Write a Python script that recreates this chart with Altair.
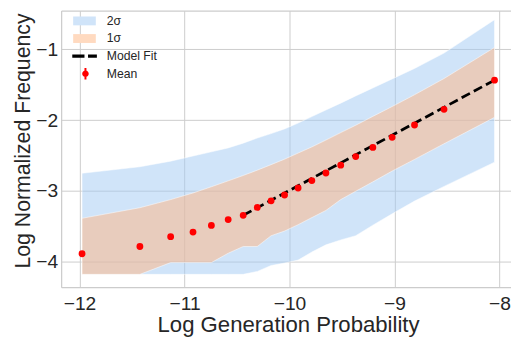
import altair as alt
import pandas as pd

# ---- data ----
gen_prob = [-11.976, -11.425, -11.132, -10.919, -10.744, -10.584, -10.441, -10.307, -10.175, -10.047,
            -9.918, -9.787, -9.653, -9.512, -9.369, -9.206, -9.022, -8.809, -8.528, -8.047]
mean_freq = [-3.885, -3.783, -3.644, -3.579, -3.486, -3.403, -3.343, -3.232, -3.139, -3.056,
             -2.958, -2.853, -2.746, -2.635, -2.514, -2.385, -2.242, -2.069, -1.847, -1.436]
upper_2s = [-2.750, -2.658, -2.579, -2.506, -2.447, -2.392, -2.325, -2.253, -2.190, -2.124,
            -2.042, -1.950, -1.857, -1.760, -1.658, -1.546, -1.418, -1.271, -1.054, -0.583]
upper_1s = [-3.385, -3.236, -3.121, -3.028, -2.940, -2.857, -2.781, -2.706, -2.628, -2.551,
            -2.465, -2.378, -2.281, -2.176, -2.072, -1.947, -1.808, -1.642, -1.413, -0.975]
lower_1s = [-4.176, -4.176, -4.010, -4.010, -4.010, -3.878, -3.783, -3.783, -3.631, -3.565,
            -3.475, -3.375, -3.274, -3.121, -3.003, -2.871, -2.718, -2.554, -2.333, -1.961]
lower_2s = [-4.176, -4.176, -4.176, -4.176, -4.176, -4.176, -4.176, -4.135, -4.051, -4.017,
            -3.975, -3.861, -3.760, -3.690, -3.631, -3.482, -3.322, -3.142, -2.935, -2.593]
fit_x = [-10.441, -8.047]
fit_y = [-3.343, -1.436]

legend_labels = ["2σ", "1σ", "Model Fit", "Mean"]
legend_colors = ["#d0e4f9", "#ffdac0", "#000000", "#ff0000"]
patch_path = "M-1.278,-0.5H1.278V0.5H-1.278Z"
dash_path = "M-1.378,-0.185H0V0.185H-1.378Z M0.4,-0.185H1.4V0.185H0.4Z"
mean_path = "M0.48,0A0.37,0.37 0 1,1 -0.26,0A0.37,0.37 0 1,1 0.48,0Z M0,-0.65H0.22V0.65H0Z"
legend_shapes = [patch_path, patch_path, dash_path, mean_path]

x_ticks = [-12, -11, -10, -9, -8]
y_ticks = [-4, -3, -2, -1]

FONT = "Liberation Sans"
TXT = "#262626"
GRID = "#cccccc"

band_df = pd.DataFrame({"x": gen_prob, "u2": upper_2s, "l2": lower_2s, "u1": upper_1s, "l1": lower_1s})
mean_df = pd.DataFrame({"x": gen_prob, "y": mean_freq})
fit_df = pd.DataFrame({"x": fit_x, "y": fit_y})
leg_df = pd.DataFrame({"series": legend_labels})

xscale = alt.Scale(domain=[-12.175, -7.890], nice=False, zero=False)
yscale = alt.Scale(domain=[-4.357, -0.454], nice=False, zero=False)

x_axis = alt.Axis(orient="bottom", values=x_ticks, format="d", grid=True, gridColor=GRID, gridWidth=1,
                  domain=True, domainColor=GRID, domainWidth=1.25, ticks=False, tickSize=0,
                  labelFont=FONT, labelFontSize=19.5, labelColor=TXT, labelPadding=8, labelFlush=False,
                  title="Log Generation Probability", titleFont=FONT, titleFontSize=22.5,
                  titleFontWeight="normal", titleColor=TXT, titleX=230.5, titleY=45.5,
                  titleBaseline="alphabetic", titleAlign="center")
y_axis = alt.Axis(orient="left", values=y_ticks, format="d", grid=True, gridColor=GRID, gridWidth=1,
                  domain=True, domainColor=GRID, domainWidth=1.25, ticks=False, tickSize=0,
                  labelFont=FONT, labelFontSize=19.5, labelColor=TXT, labelPadding=3.5, labelFlush=False,
                  title="Log Normalized Frequency", titleFont=FONT, titleFontSize=21.6,
                  titleFontWeight="normal", titleColor=TXT, titleX=-38.5, titleY=132,
                  titleAngle=270, titleBaseline="middle", titleAlign="center")
top_axis = alt.Axis(orient="top", labels=False, ticks=False, tickSize=0, grid=False, domain=True,
                    domainColor=GRID, domainWidth=1.25, title=None)

band2 = alt.Chart(band_df).mark_area(fill="#a1c9f4", fillOpacity=0.5, stroke="white",
                                     strokeWidth=1, strokeOpacity=0.5).encode(
    x=alt.X("x:Q", scale=xscale, axis=x_axis),
    y=alt.Y("u2:Q", scale=yscale, axis=y_axis),
    y2="l2:Q",
)
band1 = alt.Chart(band_df).mark_area(fill="#ffb482", fillOpacity=0.5, stroke="white",
                                     strokeWidth=1, strokeOpacity=0.5).encode(
    x=alt.X("x:Q", scale=xscale, axis=None),
    y=alt.Y("u1:Q", scale=yscale, axis=None),
    y2="l1:Q",
)
fit = alt.Chart(fit_df).mark_line(color="black", strokeWidth=2.8, strokeDash=[9.5, 4.5]).encode(
    x=alt.X("x:Q", scale=xscale, axis=top_axis),
    y=alt.Y("y:Q", scale=yscale, axis=None),
)
pts = alt.Chart(mean_df).mark_circle(color="#ff0000", opacity=1, size=48).encode(
    x=alt.X("x:Q", scale=xscale, axis=None),
    y=alt.Y("y:Q", scale=yscale, axis=None),
)

leg = alt.Legend(orient="none", legendX=14.7, legendY=1.5, title=None, labelFont=FONT,
                 labelFontSize=12.4, labelColor=TXT, symbolSize=324, symbolStrokeWidth=0,
                 symbolOpacity=1, rowPadding=1.9, labelOffset=13.6, padding=0, offset=0)
legend_layer = alt.Chart(leg_df).mark_point(filled=True, opacity=0).encode(
    color=alt.Color("series:N", scale=alt.Scale(domain=legend_labels, range=legend_colors), legend=leg),
    shape=alt.Shape("series:N", scale=alt.Scale(domain=legend_labels, range=legend_shapes), legend=leg),
)

chart = alt.layer(band2, band1, fit, pts, legend_layer).resolve_axis(
    x="independent", y="independent"
).properties(
    width=457, height=281, autosize=alt.AutoSizeParams(type="none"),
    padding={"left": 54, "top": 0, "right": 0, "bottom": 48},
    background="white",
).configure_view(strokeWidth=0)

chart.save("out.html", embed_options={"renderer": "svg", "actions": False})
